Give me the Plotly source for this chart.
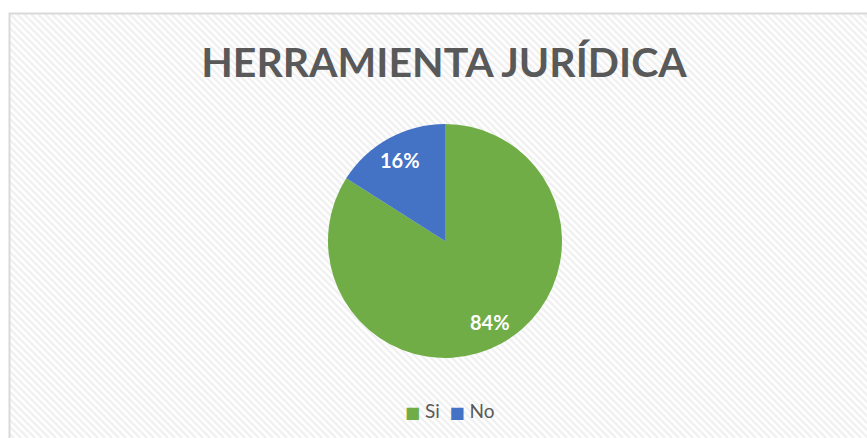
import math
import plotly.graph_objects as go

W, H = 867, 438

labels = ["Si", "No"]
values = [84, 16]
colors = ["#70ad47", "#4472c4"]
title_text = "HERRAMIENTA JURÍDICA"

# pie geometry in pixels
CX, CY, R = 445, 241, 117


def px_x(x):
    return x / W


def px_y(y):
    return 1 - y / H


fig = go.Figure()

fig.add_trace(go.Pie(
    labels=labels,
    values=values,
    marker=dict(colors=colors, line=dict(width=0)),
    sort=False,
    direction="clockwise",
    rotation=0,
    textinfo="none",
    hoverinfo="label+percent",
    showlegend=False,
    domain=dict(x=[px_x(CX - R), px_x(CX + R)],
                y=[px_y(CY + R), px_y(CY - R)]),
))

# percentage labels placed at each slice's mid-angle (like Excel's best fit)
total = sum(values)
annotations = []
cum = 0
for v in values:
    mid = (cum + v / 2) / total * 2 * math.pi
    cum += v
    lx = CX + 0.79 * R * math.sin(mid)
    ly = CY - 0.79 * R * math.cos(mid)
    annotations.append(dict(
        text=f"{round(100 * v / total)}%", x=px_x(lx), y=px_y(ly),
        xref="paper", yref="paper", showarrow=False,
        xanchor="center", yanchor="middle",
        font=dict(family="Lato", size=20, color="white", weight="bold"),
    ))

# compact legend like the Excel one
legend_text = "\u00a0\u00a0".join(
    f"<span style='color:{c};font-family:DejaVu Sans;font-size:16px'>■</span> {lab}"
    for lab, c in zip(labels, colors)
)
annotations.append(dict(
    text=legend_text, x=px_x(449), y=px_y(410), xref="paper", yref="paper",
    showarrow=False, xanchor="center", yanchor="middle",
    font=dict(family="Lato", size=19, color="#595959"),
))

# hatched background inside the chart frame
shapes = []
step = 7
for a in range(-H, W + 10, step):
    shapes.append(dict(type="line", xref="paper", yref="paper",
                       x0=px_x(a), y0=1, x1=px_x(a + H), y1=0,
                       line=dict(color="#f1f1f1", width=2.5), layer="below"))
# white area outside the frame
shapes.append(dict(type="rect", xref="paper", yref="paper",
                   x0=0, y0=px_y(13), x1=1, y1=1,
                   fillcolor="white", line=dict(width=0), layer="below"))
shapes.append(dict(type="rect", xref="paper", yref="paper",
                   x0=0, y0=0, x1=px_x(9), y1=1,
                   fillcolor="white", line=dict(width=0), layer="below"))
# frame
shapes.append(dict(type="rect", xref="paper", yref="paper",
                   x0=px_x(9.5), y0=-0.05, x1=1.05, y1=px_y(13.5),
                   line=dict(color="#d9d9d9", width=2), layer="below"))

fig.update_layout(
    width=W, height=H,
    margin=dict(l=0, r=0, t=0, b=0),
    paper_bgcolor="white",
    plot_bgcolor="white",
    shapes=shapes,
    annotations=annotations,
    title=dict(text=title_text, x=px_x(444), xanchor="center",
               y=px_y(63), yanchor="middle",
               font=dict(family="Lato", size=41, color="#595959", weight="bold")),
    showlegend=False,
)

fig.write_html("out.html", config={"displayModeBar": False},
               post_script="document.body.style.margin='0';")
